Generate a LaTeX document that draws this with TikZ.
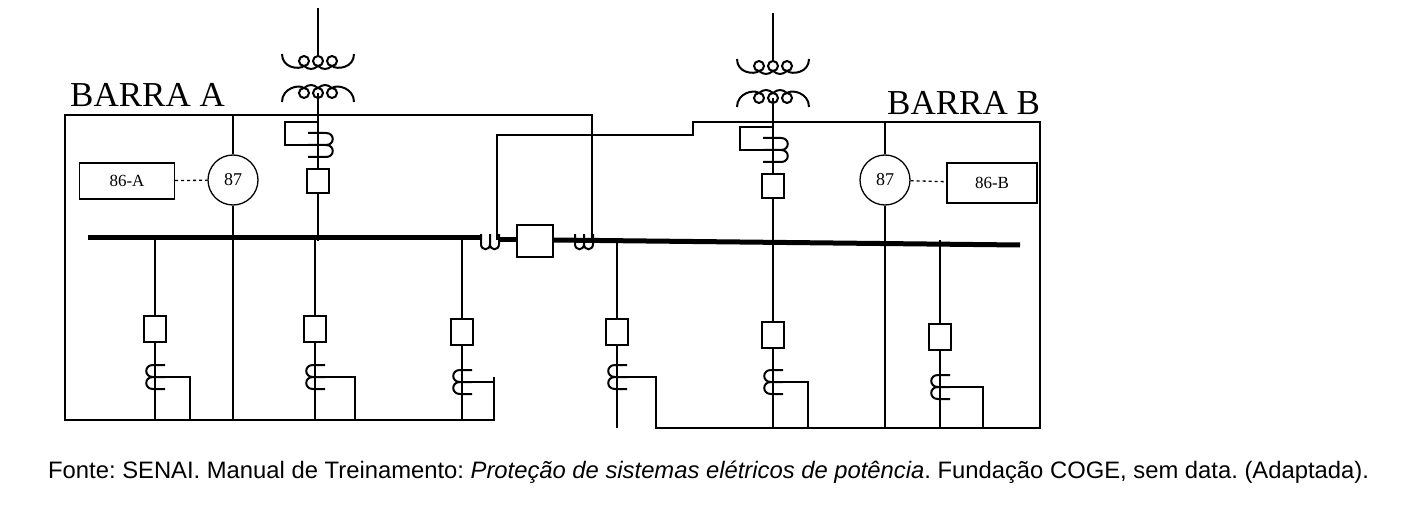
\documentclass[tikz,border=0pt]{standalone}
\usepackage{fontspec}
\setmainfont{Liberation Serif}
\newfontfamily\capfont{Liberation Sans}
\begin{document}
\begin{tikzpicture}[x=1pt,y=-1pt,
  wire/.style={line width=2pt},
  frame/.style={line width=2.6pt},
  thin/.style={line width=1.3pt},
  brk/.style={draw,line width=2pt,minimum width=22pt,minimum height=24pt,inner sep=0pt,fill=white},
  relay/.style={draw,circle,line width=1.3pt,minimum size=50pt,inner sep=0pt,font=\fontsize{18}{18}\selectfont,fill=white},
  lockout/.style={draw,line width=1.3pt,minimum width=95pt,minimum height=36pt,inner sep=0pt,font=\fontsize{17}{17}\selectfont},
  lbl/.style={font=\fontsize{35}{35}\selectfont,inner sep=0pt,anchor=base west}]
\useasboundingbox (0,0) rectangle (1405,505);
% frames
\draw[frame] (592,240) -- (592,115) -- (65,115) -- (65,420) -- (494,420) -- (494,377);
\draw[frame] (497,240) -- (497,135) -- (693,135) -- (693,122) -- (1040,122) -- (1040,428) -- (656,428) -- (656,377);
% buses
\draw[line width=5pt] (88,237) -- (480,237);
\draw[line width=5pt] (500,239) -- (517,239);
\draw[line width=5pt] (553,240) -- (1020,245);
% coupler
\node[brk,minimum width=36pt,minimum height=32pt] (cpl) at (535,241) {};
\foreach \cx in {490,584}{
  \draw[wire] (\cx-9,234) -- (\cx-9,244) .. controls (\cx-9,251) and (\cx,251) .. (\cx,244) -- (\cx,234);
  \draw[wire] (\cx,244) .. controls (\cx,251) and (\cx+9,251) .. (\cx+9,244) -- (\cx+9,234);
}
% relays
\node[relay] (r1) at (233,180) {87};
\node[relay] (r2) at (885,180) {87};
\node[lockout] (l1) at (127,181) {86-A};
\node[lockout,minimum width=90pt,minimum height=40pt] (l2) at (992,183) {86-B};
\draw[thin,dashed] (l1) -- (r1);
\draw[thin,dashed] (r2) -- (l2);
\draw[thin] (233,115) -- (r1) -- (233,420);
\draw[thin] (885,122) -- (r2) -- (885,428);
\node[lbl] (ba) at (70,107) {BARRA A};
\node[lbl] (bb) at (887,115) {BARRA B};
% transformers
\foreach \tx/\ty/\cy/\by/\bk in {318/0/128/181/285,773/5/133/186/740}{
  \draw[wire] (\tx,\ty+8) -- (\tx,\ty+57);
  % upper winding
  \draw[wire] (\tx-36,\ty+54) .. controls (\tx-36,\ty+68) and (\tx-19,\ty+70) .. (\tx-14,\ty+66)
     .. controls (\tx-9,\ty+70) and (\tx-5,\ty+70) .. (\tx,\ty+66)
     .. controls (\tx+5,\ty+70) and (\tx+9,\ty+70) .. (\tx+14,\ty+66)
     .. controls (\tx+19,\ty+70) and (\tx+36,\ty+68) .. (\tx+36,\ty+54);
  \foreach \k in {-1,0,1}{ \draw[wire] (\tx+\k*14,\ty+61) circle (5); }
  % lower winding
  \draw[wire] (\tx-36,\ty+102) .. controls (\tx-36,\ty+88) and (\tx-19,\ty+84) .. (\tx-14,\ty+88)
     .. controls (\tx-9,\ty+84) and (\tx-5,\ty+84) .. (\tx,\ty+88)
     .. controls (\tx+5,\ty+84) and (\tx+9,\ty+84) .. (\tx+14,\ty+88)
     .. controls (\tx+19,\ty+84) and (\tx+36,\ty+88) .. (\tx+36,\ty+102);
  \foreach \k in {-1,0,1}{ \draw[wire] (\tx+\k*14,\ty+93) circle (5); }
  \draw[wire] (\tx,\ty+93) -- (\tx,\by-12);
  % CT
  \draw[wire] (\tx-10,\cy+5) -- (\tx+8,\cy+5) .. controls (\tx+17,\cy+5) and (\tx+17,\cy+17) .. (\tx+8,\cy+17) -- (\tx-10,\cy+17);
  \draw[wire] (\tx+8,\cy+17) .. controls (\tx+17,\cy+17) and (\tx+17,\cy+29) .. (\tx+8,\cy+29) -- (\tx-10,\cy+29);
  \draw[wire] (\tx,\cy-6) -- (\bk,\cy-6) -- (\bk,\cy+17) -- (\tx-10,\cy+17);
  \node[brk] (tb\tx) at (\tx,\by) {};
  \draw[wire] (tb\tx) -- (\tx,241);
}
% feeder bays
\foreach \bx/\by/\cy/\bot/\ret in {155/329/370/420/190, 315/329/370/420/355, 462/332/375/420/494, 617/332/370/428/656, 773/335/375/428/808, 940/337/380/428/983}{
  \node[brk,minimum height=26pt] (b\bx) at (\bx,\by) {};
  \draw[wire] (\bx,240) -- (b\bx);
  \draw[wire] (b\bx) -- (\bx,\bot);
  \draw[wire] (\bx+10,\cy-5) -- (\bx-2,\cy-5) .. controls (\bx-11,\cy-5) and (\bx-11,\cy+7) .. (\bx-2,\cy+7) -- (\bx+10,\cy+7);
  \draw[wire] (\bx-2,\cy+7) .. controls (\bx-11,\cy+7) and (\bx-11,\cy+19) .. (\bx-2,\cy+19) -- (\bx+10,\cy+19);
  \draw[wire] (\bx,\cy+7) -- (\ret,\cy+7) -- (\ret,\bot);
}
\node[font=\capfont\fontsize{23.8}{24}\selectfont,anchor=base west,inner sep=0pt] (cap) at (48,478)
 {\frenchspacing Fonte: SENAI. Manual de Treinamento: \textit{Proteção de sistemas elétricos de potência}. Fundação COGE, sem data. (Adaptada).};
\end{tikzpicture}
\end{document}
